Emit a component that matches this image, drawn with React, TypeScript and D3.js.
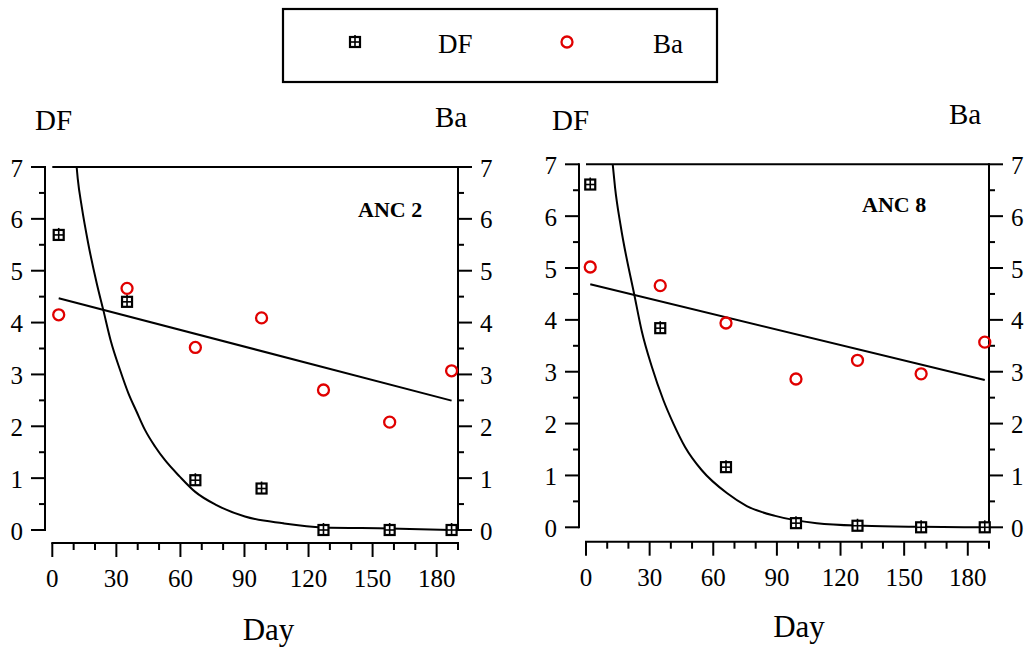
import React from 'react';
import * as d3 from 'd3';

// ---- Data ----
const days2 = [3, 35, 67, 98, 127, 158, 187];
const df2 = [5.69, 4.4, 0.96, 0.8, 0, 0, 0];
const ba2 = [4.15, 4.66, 3.52, 4.09, 2.7, 2.08, 3.07];
const curveDays2 = [11.4, 11.9, 13.8, 16.8, 20.8, 23.9, 27.5, 31.7, 35.6, 39.5, 43.4, 48.1, 52.7, 59.7, 66.8, 76.9, 90.2, 108.1, 126.5, 158, 186.6];
const curveVals2 = [7.0, 6.78, 6.23, 5.53, 4.76, 4.24, 3.63, 3.09, 2.64, 2.28, 1.93, 1.61, 1.35, 1.03, 0.74, 0.48, 0.26, 0.13, 0.05, 0.03, 0];

const days8 = [2, 35, 66, 99, 128, 158, 188];
const df8 = [6.61, 3.84, 1.16, 0.08, 0.03, 0, 0];
const ba8 = [5.02, 4.66, 3.94, 2.86, 3.22, 2.96, 3.57];
const curveDays8 = [12.6, 13.7, 16.4, 22.8, 26.3, 31, 36.5, 41.2, 46.7, 54.6, 66.4, 75.8, 89.2, 108.8, 130.8, 158, 188];
const curveVals8 = [7.0, 6.55, 5.8, 4.48, 3.78, 3.1, 2.45, 2.0, 1.55, 1.1, 0.66, 0.41, 0.22, 0.08, 0.03, 0.01, 0];

const xMajorTicks = [0, 30, 60, 90, 120, 150, 180];
const xMinorTicks = [10, 20, 40, 50, 70, 80, 100, 110, 130, 140, 160, 170, 190];
const yMajorTicks = [0, 1, 2, 3, 4, 5, 6, 7];
const yMinorTicks = [0.5, 1.5, 2.5, 3.5, 4.5, 5.5, 6.5];
const xDomain: [number, number] = [0, 190];
const yDomain: [number, number] = [0, 7];

const FONT = "'Liberation Serif', 'Times New Roman', Times, serif";
const RED = '#e00000';
const T = { fontFamily: FONT };

function SquareMarker({ x, y }: { x: number; y: number }) {
  const s = 5;
  return (
    <g>
      <rect x={x - s} y={y - s} width={2 * s} height={2 * s} fill="white" stroke="black" strokeWidth={2.2} />
      <line x1={x - s} x2={x + s} y1={y} y2={y} stroke="black" strokeWidth={1.6} />
      <line x1={x} x2={x} y1={y - s - 2} y2={y + s} stroke="black" strokeWidth={1.6} />
    </g>
  );
}

function CircleMarker({ x, y }: { x: number; y: number }) {
  return <circle cx={x} cy={y} r={5.5} fill="none" stroke={RED} strokeWidth={2.3} />;
}

function linFit(xs: number[], ys: number[]) {
  const mx = d3.mean(xs) as number;
  const my = d3.mean(ys) as number;
  let sxy = 0, sxx = 0;
  xs.forEach((x, i) => { sxy += (x - mx) * (ys[i] - my); sxx += (x - mx) * (x - mx); });
  const b = sxy / sxx;
  return (x: number) => my + b * (x - mx);
}

type Layout = {
  x0: number; x1: number; yBottom: number; yTop: number;
  leftAxisX: number; xAxisY: number;
  dfLabel: [number, number]; baLabel: [number, number]; ancLabel: [number, number]; dayLabel: [number, number];
};

function Panel({ days, df, ba, cDays, cVals, name, L }: {
  days: number[]; df: number[]; ba: number[]; cDays: number[]; cVals: number[]; name: string; L: Layout;
}) {
  const x = d3.scaleLinear().domain(xDomain).range([L.x0, L.x1]);
  const y = d3.scaleLinear().domain(yDomain).range([L.yBottom, L.yTop]);
  const yR = d3.scaleLinear().domain(yDomain).range([L.yBottom, L.yTop]);
  const rightAxisX = L.x1;

  const curvePts = cDays.map((d, i) => [d, cVals[i]] as [number, number]);
  const curvePath = d3.line<[number, number]>().x(d => x(d[0])).y(d => y(d[1])).curve(d3.curveMonotoneX)(curvePts) || '';

  const fit = linFit(days, ba);
  const fitDays = [d3.min(days) as number, d3.max(days) as number];
  const fitPath = d3.line<number>().x(d => x(d)).y(d => yR(fit(d)))(fitDays) || '';

  return (
    <g>
      {/* top border */}
      <line x1={L.x0} x2={rightAxisX} y1={L.yTop} y2={L.yTop} stroke="black" strokeWidth={2} />
      {/* left axis */}
      <line x1={L.leftAxisX} x2={L.leftAxisX} y1={L.yTop - 1} y2={L.yBottom + 1} stroke="black" strokeWidth={2} />
      {yMajorTicks.map(t => (
        <g key={'lm' + t}>
          <line x1={L.leftAxisX - 14} x2={L.leftAxisX} y1={y(t)} y2={y(t)} stroke="black" strokeWidth={2} />
          <text style={T} x={L.leftAxisX - 22} y={y(t) + 9.5} fontSize={25} textAnchor="end">{t}</text>
        </g>
      ))}
      {yMinorTicks.map(t => (
        <line key={'ln' + t} x1={L.leftAxisX - 6} x2={L.leftAxisX} y1={y(t)} y2={y(t)} stroke="black" strokeWidth={2} />
      ))}
      {/* right axis */}
      <line x1={rightAxisX} x2={rightAxisX} y1={L.yTop - 1} y2={L.yBottom + 1} stroke="black" strokeWidth={2} />
      {yMajorTicks.map(t => (
        <g key={'rm' + t}>
          <line x1={rightAxisX} x2={rightAxisX + 14} y1={yR(t)} y2={yR(t)} stroke="black" strokeWidth={2} />
          <text style={T} x={rightAxisX + 22} y={yR(t) + 9.5} fontSize={25} textAnchor="start">{t}</text>
        </g>
      ))}
      {yMinorTicks.map(t => (
        <line key={'rn' + t} x1={rightAxisX} x2={rightAxisX + 6} y1={yR(t)} y2={yR(t)} stroke="black" strokeWidth={2} />
      ))}
      {/* x axis */}
      <line x1={x(xDomain[0]) - 1} x2={x(xDomain[1]) + 1} y1={L.xAxisY} y2={L.xAxisY} stroke="black" strokeWidth={2} />
      {xMajorTicks.map(t => (
        <g key={'xm' + t}>
          <line x1={x(t)} x2={x(t)} y1={L.xAxisY} y2={L.xAxisY + 14} stroke="black" strokeWidth={2} />
          <text style={T} x={x(t)} y={L.xAxisY + 44} fontSize={25} textAnchor="middle">{t}</text>
        </g>
      ))}
      {xMinorTicks.map(t => (
        <line key={'xn' + t} x1={x(t)} x2={x(t)} y1={L.xAxisY} y2={L.xAxisY + 7} stroke="black" strokeWidth={2} />
      ))}

      {/* curves */}
      <path d={curvePath} fill="none" stroke="black" strokeWidth={2} />
      <path d={fitPath} fill="none" stroke="black" strokeWidth={2} />

      {/* markers */}
      {days.map((d, i) => <SquareMarker key={'s' + i} x={x(d)} y={y(df[i])} />)}
      {days.map((d, i) => <CircleMarker key={'c' + i} x={x(d)} y={yR(ba[i])} />)}

      {/* labels */}
      <text style={T} x={L.dfLabel[0]} y={L.dfLabel[1]} fontSize={29}>DF</text>
      <text style={T} x={L.baLabel[0]} y={L.baLabel[1]} fontSize={29}>Ba</text>
      <text style={T} x={L.ancLabel[0]} y={L.ancLabel[1]} fontSize={22} fontWeight="bold">{name}</text>
      <text style={T} x={L.dayLabel[0]} y={L.dayLabel[1]} fontSize={31} textAnchor="middle">Day</text>
    </g>
  );
}

const layout2: Layout = {
  x0: 52.3, x1: 458, yBottom: 530, yTop: 167, leftAxisX: 45, xAxisY: 543,
  dfLabel: [35, 130], baLabel: [435, 127], ancLabel: [358, 216.7], dayLabel: [268.5, 640],
};
const layout8: Layout = {
  x0: 586, x1: 989, yBottom: 527.3, yTop: 164.3, leftAxisX: 579, xAxisY: 541.7,
  dfLabel: [552, 130], baLabel: [949, 124.3], ancLabel: [862, 211.7], dayLabel: [799, 637.3],
};

export default function App() {
  return (
    <svg width={1027} height={650} style={{ position: 'absolute', left: 0, top: 0, background: 'white' }}>
      <rect x={0} y={0} width={1027} height={650} fill="white" />
      {/* legend */}
      <g>
        <rect x={283} y={9} width={434} height={73} fill="white" stroke="black" strokeWidth={2.2} />
        <SquareMarker x={355} y={42} />
        <text style={T} x={438} y={53} fontSize={27}>DF</text>
        <CircleMarker x={567} y={42} />
        <text style={T} x={653} y={53} fontSize={27}>Ba</text>
      </g>
      <Panel days={days2} df={df2} ba={ba2} cDays={curveDays2} cVals={curveVals2} name="ANC 2" L={layout2} />
      <Panel days={days8} df={df8} ba={ba8} cDays={curveDays8} cVals={curveVals8} name="ANC 8" L={layout8} />
    </svg>
  );
}
